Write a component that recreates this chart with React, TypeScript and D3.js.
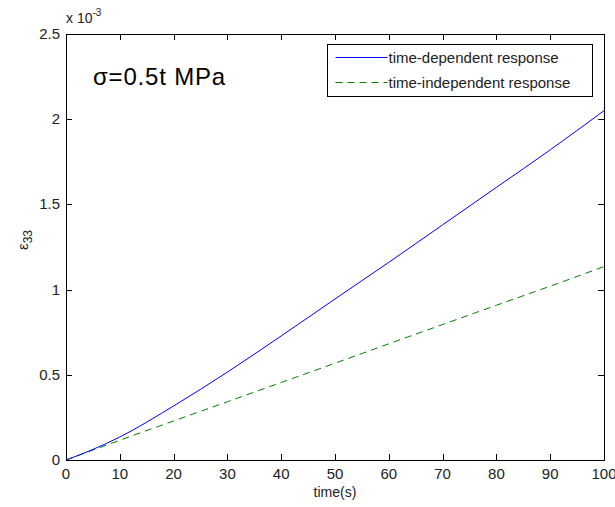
import * as d3 from "d3";
import { useEffect, useRef } from "react";

// time axis samples (s)
const times = [0, 5, 10, 20, 30, 40, 50, 60, 70, 80, 90, 100];
// strain values, x 10^-3
const dependent = [0, 0.062, 0.135, 0.317, 0.516, 0.728, 0.945, 1.16, 1.38, 1.6, 1.82, 2.05];
const independent = [0, 0.058, 0.116, 0.229, 0.342, 0.455, 0.568, 0.682, 0.795, 0.908, 1.02, 1.135];

const xTicks = [0, 10, 20, 30, 40, 50, 60, 70, 80, 90, 100];
const yTicks = [0, 0.5, 1, 1.5, 2, 2.5];

const legendLabels = ["time-dependent response", "time-independent response"];

const App = () => {
    const chartRef = useRef(null);

    const width = 615;
    const height = 507;
    const margin = { top: 34, bottom: 47, left: 66, right: 11 };

    useEffect(() => {
        document.body.style.margin = "0";
        const svg = d3.select(chartRef.current);
        svg.selectAll("*").remove();

        const boundsWidth = width - margin.left - margin.right;
        const boundsHeight = height - margin.top - margin.bottom;

        const scaleX = d3.scaleLinear().domain([0, 100]).range([0, boundsWidth]);
        const scaleY = d3.scaleLinear().domain([0, 2.5]).range([boundsHeight, 0]);

        svg.append("rect")
            .attr("width", width)
            .attr("height", height)
            .attr("fill", "white");

        const g = svg.append("g")
            .attr("transform", `translate(${margin.left}, ${margin.top})`);

        const font = "Arial, 'Liberation Sans', Helvetica, sans-serif";
        const tickLen = 6;

        // линии
        const line = d3.line<number>()
            .x((d, i) => scaleX(times[i]))
            .y(d => scaleY(d))
            .curve(d3.curveMonotoneX);

        g.append("path")
            .datum(independent)
            .attr("d", line)
            .attr("fill", "none")
            .attr("stroke", "#008000")
            .attr("stroke-width", 1)
            .attr("stroke-dasharray", "7,5");

        g.append("path")
            .datum(dependent)
            .attr("d", line)
            .attr("fill", "none")
            .attr("stroke", "#0000ff")
            .attr("stroke-width", 1);

        // рамка и тики
        g.append("rect")
            .attr("x", 0.5)
            .attr("y", 0.5)
            .attr("width", boundsWidth)
            .attr("height", boundsHeight)
            .attr("fill", "none")
            .attr("stroke", "black")
            .attr("stroke-width", 1);

        xTicks.forEach(t => {
            const x = Math.round(scaleX(t)) + 0.5;
            g.append("line").attr("x1", x).attr("x2", x)
                .attr("y1", boundsHeight).attr("y2", boundsHeight - tickLen)
                .attr("stroke", "black");
            g.append("line").attr("x1", x).attr("x2", x)
                .attr("y1", 0).attr("y2", tickLen)
                .attr("stroke", "black");
            g.append("text")
                .attr("x", scaleX(t))
                .attr("y", boundsHeight + 19)
                .attr("text-anchor", "middle")
                .style("font-family", font)
                .style("font-size", "15px")
                .attr("fill", "#222")
                .text(t);
        });

        yTicks.forEach(t => {
            const y = Math.round(scaleY(t)) + 0.5;
            g.append("line").attr("x1", 0).attr("x2", tickLen)
                .attr("y1", y).attr("y2", y)
                .attr("stroke", "black");
            g.append("line").attr("x1", boundsWidth).attr("x2", boundsWidth - tickLen)
                .attr("y1", y).attr("y2", y)
                .attr("stroke", "black");
            g.append("text")
                .attr("x", -6)
                .attr("y", scaleY(t) + 5)
                .attr("text-anchor", "end")
                .style("font-family", font)
                .style("font-size", "15px")
                .attr("fill", "#222")
                .text(t);
        });

        // множитель оси Y
        const exp = svg.append("text")
            .attr("x", margin.left)
            .attr("y", 23)
            .style("font-family", font)
            .style("font-size", "14px")
            .attr("fill", "#222");
        exp.append("tspan").text("x 10");
        exp.append("tspan").attr("dy", -7).style("font-size", "10px").text("-3");

        // подписи осей
        svg.append("text")
            .attr("x", margin.left + boundsWidth / 2)
            .attr("y", height - 10)
            .attr("text-anchor", "middle")
            .style("font-family", font)
            .style("font-size", "14px")
            .attr("fill", "#222")
            .text("time(s)");

        const yl = svg.append("text")
            .attr("transform", `translate(28, 240) rotate(-90)`)
            .attr("text-anchor", "middle")
            .style("font-family", font)
            .style("font-size", "15px")
            .attr("fill", "#222");
        yl.append("tspan").text("ε");
        yl.append("tspan").attr("dy", 4).style("font-size", "12px").text("33");

        // аннотация
        svg.append("text")
            .attr("x", 93)
            .attr("y", 85)
            .style("font-family", font)
            .style("font-size", "24px")
            .style("letter-spacing", "0.8px")
            .attr("fill", "black")
            .text("σ=0.5t MPa");

        // легенда
        const lg = svg.append("g").attr("transform", "translate(327.5, 44.5)");
        lg.append("rect")
            .attr("width", 265)
            .attr("height", 52)
            .attr("fill", "white")
            .attr("stroke", "black");

        const styles = [
            { color: "#0000ff", dash: null },
            { color: "#008000", dash: "7,5" }
        ];
        legendLabels.forEach((label, i) => {
            const y = 13 + i * 25;
            lg.append("line")
                .attr("x1", 8).attr("x2", 60)
                .attr("y1", y).attr("y2", y)
                .attr("stroke", styles[i].color)
                .attr("stroke-dasharray", styles[i].dash);
            lg.append("text")
                .attr("x", 61)
                .attr("y", y + 5)
                .style("font-family", font)
                .style("font-size", "15px")
                .attr("fill", "#222")
                .text(label);
        });
    }, []);

    return (
        <svg ref={chartRef} width={width} height={height} style={{ display: "block" }}></svg>
    );
};

export default App;
